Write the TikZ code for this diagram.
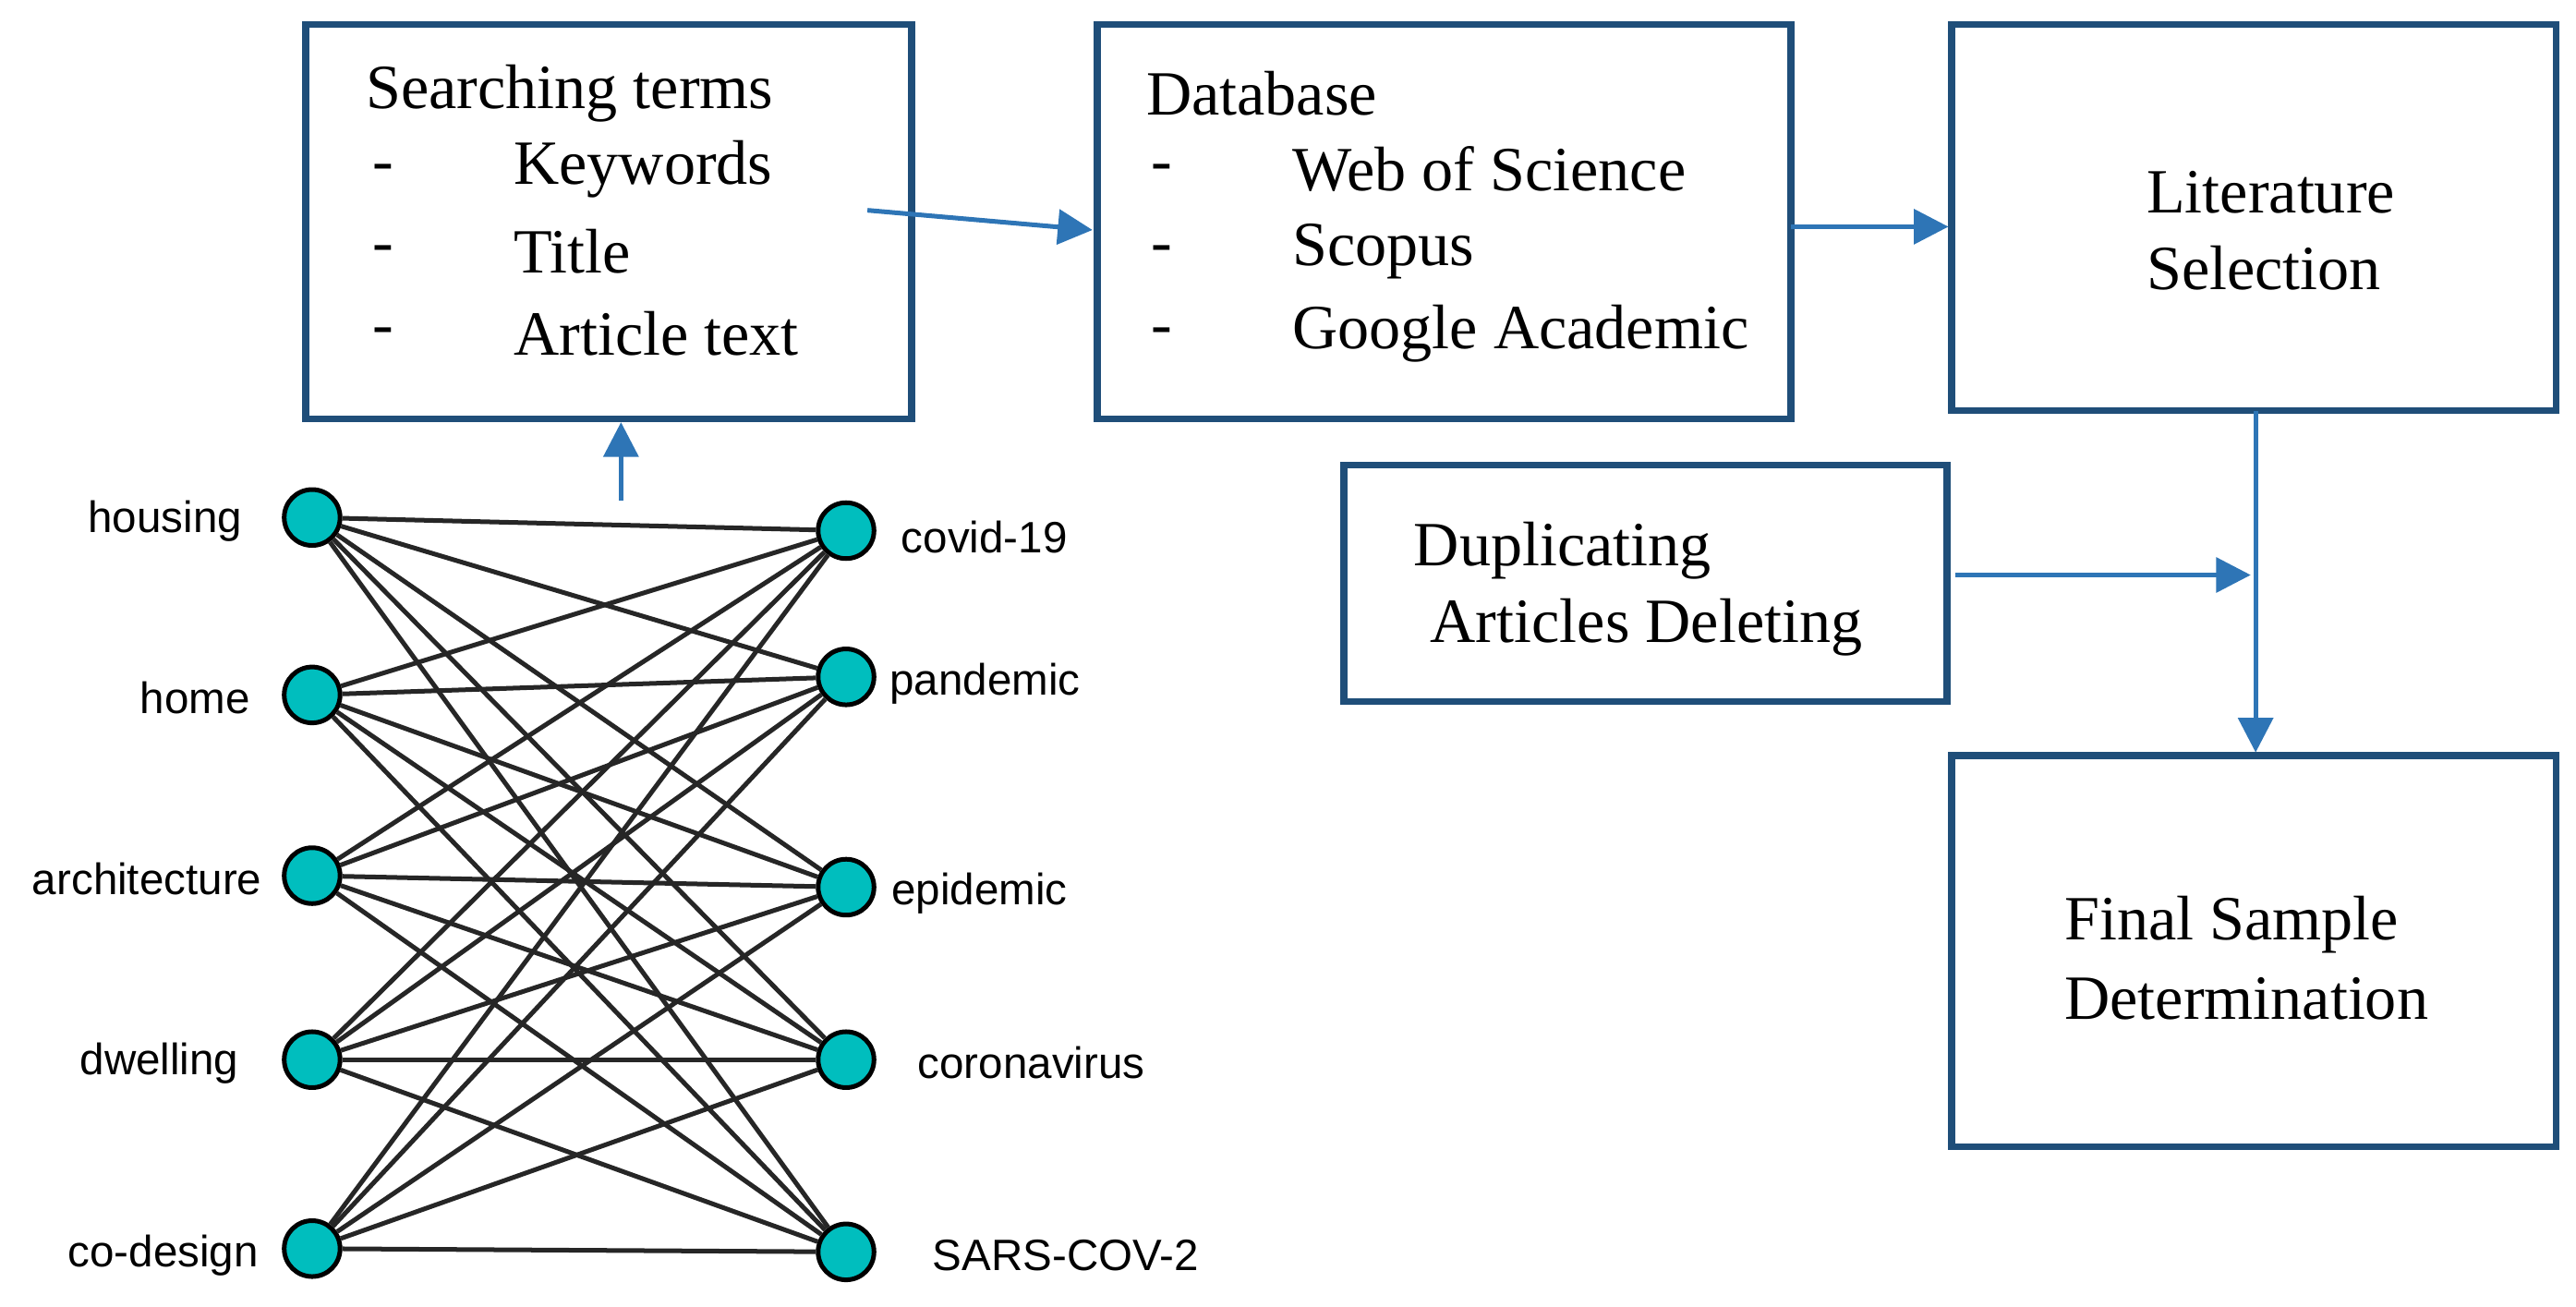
\documentclass[tikz,border=0pt]{standalone}
\usepackage{fontspec}
\setmainfont{Liberation Serif}
\newfontfamily\labelfont{Liberation Sans}
\usetikzlibrary{arrows.meta}
\definecolor{flowblue}{RGB}{46,117,182}
\definecolor{boxblue}{RGB}{31,78,121}
\definecolor{dotcyan}{RGB}{0,190,190}
\tikzset{
  box/.style={draw=boxblue, line width=1.2pt},
  flow/.style={draw=flowblue, line width=0.8pt, -{Triangle[length=6pt,width=6pt]}},
  term/.style={circle, draw=black, fill=dotcyan, line width=0.8pt, minimum size=0.34cm, inner sep=0pt},
  word/.style={font=\labelfont\fontsize{7.6}{9}\selectfont, inner sep=0pt},
  txt/.style={font=\fontsize{10.9}{14}\selectfont, inner sep=0pt, anchor=west}
}
\begin{document}
\begin{tikzpicture}[x=0.01cm,y=-0.01cm]
		\useasboundingbox (0,0) rectangle (1568,795);
		% boxes
		\draw [box] (186,15) rectangle (555,255);
		\draw [box] (668,15) rectangle (1090,255);
		\draw [box] (1188,15) rectangle (1556,250);
		\draw [box] (818,283) rectangle (1185,427);
		\draw [box] (1188,460) rectangle (1556,698);
		
		\node [txt] at (222,57) {Searching terms};
		\node [txt] at (226,105) {-}; \node [txt] at (312,103) {Keywords};
		\node [txt] at (226,155) {-}; \node [txt] at (312,153) {Title};
		\node [txt] at (226,205) {-}; \node [txt] at (312,203) {Article text};
		
		\node [txt] at (697,57) {Database};
		\node [txt] at (700,105) {-}; \node [txt] at (786,103) {Web of Science};
		\node [txt] at (700,155) {-}; \node [txt] at (786,153) {Scopus};
		\node [txt] at (700,205) {-}; \node [txt] at (786,203) {Google Academic};
		
		\node [txt] at (1306,117) {Literature};
		\node [txt] at (1306,163) {Selection};
		\node [txt] at (860,335) {Duplicating};
		\node [txt] at (870,382) {Articles Deleting};
		\node [txt] at (1256,563) {Final Sample};
		\node [txt] at (1256,608) {Determination};
		
		% arrows
		\draw [flow] (528,128) -- (665,140);
		\draw [flow] (1090,138) -- (1186,138);
		\draw [flow] (1373,250) -- (1373,458);
		\draw [flow] (1190,350) -- (1370,350);
		\draw [flow] (378,305) -- (378,257);
		
		% network
		\foreach \n/\y in {a/315,b/423,c/533,d/645,e/760}
			\node [term] (l\n) at (190,\y) {};
		\foreach \n/\y in {a/323,b/412,c/540,d/645,e/762}
			\node [term] (r\n) at (515,\y) {};
		\foreach \i in {a,b,c,d,e}
			\foreach \j in {a,b,c,d,e}
				\draw [black!85, line width=0.8pt] (l\i) -- (r\j);
		\node [word, anchor=east] at (148,317) {housing};
		\node [word, anchor=east] at (153,425) {home};
		\node [word, anchor=east] at (160,535) {architecture};
		\node [word, anchor=east] at (146,647) {dwelling};
		\node [word, anchor=east] at (158,764) {co-design};
		\node [word, anchor=west] at (548,327) {covid-19};
		\node [word, anchor=west] at (541,416) {pandemic};
		\node [word, anchor=west] at (542,544) {epidemic};
		\node [word, anchor=west] at (558,647) {coronavirus};
		\node [word, anchor=west] at (567,764) {SARS-COV-2};
	\end{tikzpicture}
\end{document}
